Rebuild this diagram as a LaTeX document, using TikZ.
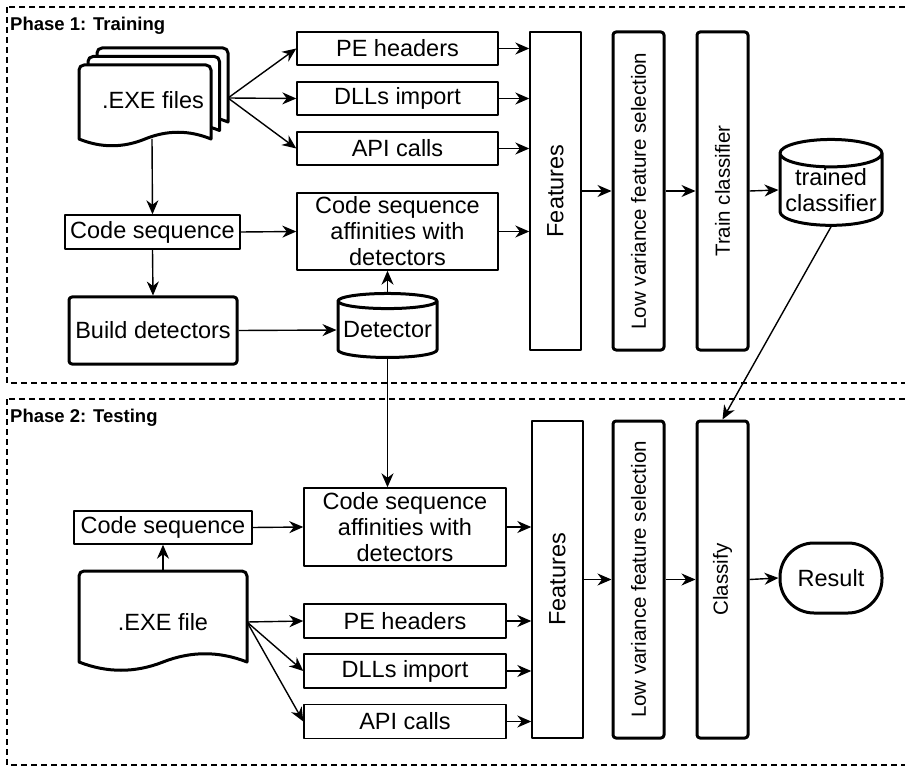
\documentclass[tikz,border=0pt]{standalone}
\usepackage{fontspec}
\setmainfont{Liberation Sans}
\usepackage{graphicx}
\usetikzlibrary{arrows.meta,shapes.geometric}
\tikzset{
    lab/.style={font=\fontsize{23.5}{26}\selectfont},
    vlab/.style={font=\fontsize{20.5}{24}\selectfont},
    phase/.style={font=\bfseries\fontsize{18.5}{22}\selectfont, anchor=west, inner sep=0pt},
    thinbox/.style={draw, line width=1.4pt, inner sep=0pt, align=center, lab},
    thickbox/.style={draw, line width=3pt, rounded corners=3pt, inner sep=0pt, align=center, lab},
    dbase/.style={cylinder, shape border rotate=90, draw, line width=3pt, inner sep=0pt, align=center, lab},
    docline/.style={line width=3pt, fill=white},
    arr/.style={-{Stealth[length=14pt,width=12pt,inset=4.5pt]}, line width=1.4pt},
    phaseframe/.style={line width=1.8pt, dash pattern=on 6pt off 4pt}
}
\newcommand\docpage[5]{% x1, top, x2, wave base, bend
  \pgfmathsetmacro\dw{(#3-#1)/6}
  \pgfmathsetmacro\dm{(#1+#3)/2}
  \draw[docline] (#1,#4) [rounded corners=5pt] -- (#1,#2) -- (#3,#2) [sharp corners] -- (#3,#4)
    .. controls (#3-\dw,#4-#5) and (\dm+\dw,#4-#5) .. (\dm,#4)
    .. controls (\dm-\dw,#4+#5) and (#1+\dw,#4+#5) .. (#1,#4) -- cycle;
}

\begin{document}
\begin{tikzpicture}[x=1pt, y=-1pt, line join=round]

\useasboundingbox (0,0) rectangle (905,767);
\clip (0,0) rectangle (905,767);

% the two phases
\draw[phaseframe] (7,7) rectangle (920,383);
\draw[phaseframe] (7,399) rectangle (920,765);
\node[phase] (p1) at (10,26) {Phase 1: Training};
\node[phase] (p2) at (10,418) {Phase 2: Testing};

% Phase 1: training
\docpage{97}{48}{228}{122}{9}
\docpage{88}{56.5}{219.5}{130.5}{9}
\docpage{79}{65}{211}{139}{9}
\node[lab] (files) at (153,100) {.EXE files};
\coordinate (filesout) at (228,98);
\coordinate (filesbot) at (152,139);

\node[thinbox, minimum width=51pt, minimum height=318pt] (feat1) at (555.5,191) {\rotatebox{90}{Features}};
\node[thickbox, vlab, minimum width=51pt, minimum height=318pt] (low1) at (638.5,191) {\rotatebox{90}{Low variance feature selection}};
\node[thickbox, vlab, minimum width=51pt, minimum height=318pt] (train1) at (722.5,191) {\rotatebox{90}{Train classifier}};
\node[dbase, aspect=0.3, minimum width=102pt, minimum height=84pt] (model) at (831,190) {trained\\classifier};

\foreach \n/\t/\y in {pe1/PE headers/48.5, dll1/DLLs import/98.5, api1/API calls/148.5} {
  \node[thinbox, minimum width=201pt, minimum height=33pt] (\n) at (397.5,\y) {\t};
  \draw[arr] (filesout) -- (\n.west);
  \draw[arr] (\n.east) -- (\n.east -| feat1.west);
}

\node[thinbox, minimum width=175pt, minimum height=34pt] (seq1) at (152.5,232) {Code sequence};
\node[thinbox, minimum width=201pt, minimum height=77pt] (aff1) at (397.5,231.5) {Code sequence\\affinities with\\detectors};
\node[thickbox, minimum width=168pt, minimum height=67pt] (build) at (153,330.5) {Build detectors};
\node[dbase, aspect=0.17, minimum width=99pt, minimum height=64pt] (det) at (387.5,330) {Detector};

\draw[arr] (filesbot) -- (seq1.north);
\draw[arr] (seq1.south) -- (build.north);
\draw[arr] (seq1.east) -- (aff1.west);
\draw[arr] (build.east) -- (det.west);
\draw[arr] (det.north) -- (det.north |- aff1.south);
\draw[arr] (aff1.east) -- (aff1.east -| feat1.west);
\draw[arr] (feat1.east) -- (low1.west);
\draw[arr] (low1.east) -- (train1.west);
\draw[arr] (train1.east) -- (model.west);

% Phase 2: testing
\docpage{79}{571}{247}{662}{11}
\node[lab] (file) at (163,622) {.EXE file};
\coordinate (fileout) at (247,622);
\coordinate (filetop) at (163,571);

\node[thinbox, minimum width=51pt, minimum height=317pt] (feat2) at (557.5,579.5) {\rotatebox{90}{Features}};
\node[thickbox, vlab, minimum width=51pt, minimum height=317pt] (low2) at (638.5,579.5) {\rotatebox{90}{Low variance feature selection}};
\node[thickbox, vlab, minimum width=51pt, minimum height=317pt] (cls) at (722.5,579.5) {\rotatebox{90}{Classify}};
\node[thickbox, rounded corners=34pt, minimum width=102pt, minimum height=70pt] (res) at (831,578) {Result};

\node[thinbox, minimum width=178pt, minimum height=33pt] (seq2) at (163,527.5) {Code sequence};
\node[thinbox, minimum width=202pt, minimum height=78pt] (aff2) at (405,527) {Code sequence\\affinities with\\detectors};

\foreach \n/\t/\y in {pe2/PE headers/621, dll2/DLLs import/671, api2/API calls/721.5} {
  \node[thinbox, minimum width=202pt, minimum height=34pt] (\n) at (405,\y) {\t};
  \draw[arr] (fileout) -- (\n.west);
  \draw[arr] (\n.east) -- (\n.east -| feat2.west);
}

\draw[arr] (filetop) -- (seq2.south);
\draw[arr] (seq2.east) -- (aff2.west);
\draw[arr] (det.south) -- (det.south |- aff2.north);
\draw[arr] (aff2.east) -- (aff2.east -| feat2.west);
\draw[arr] (feat2.east) -- (low2.west);
\draw[arr] (low2.east) -- (cls.west);
\draw[arr] (cls.east) -- (res.west);
\draw[arr] (model.south) -- (cls.north);

\end{tikzpicture}
\end{document}
